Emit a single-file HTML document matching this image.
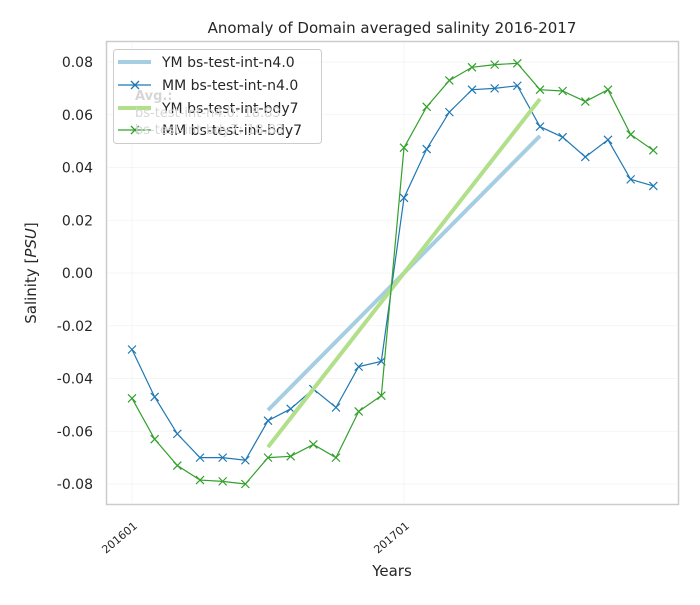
<!DOCTYPE html>
<html><head><meta charset="utf-8"><style>
body{margin:0;background:#fff;}
svg text{font-family:"DejaVu Sans","Liberation Sans",sans-serif;fill:#262626;}
</style></head><body>
<svg id="chart" width="700" height="600">
<rect x="106.5" y="41.5" width="572" height="463" fill="#fff" stroke="#cccccc" stroke-width="1.5"/>
<g id="grid"></g>
<g id="yticks"></g>
<g id="xticks"></g>
<text x="392" y="33" text-anchor="middle" font-size="15">Anomaly of Domain averaged salinity 2016-2017</text>
<text x="392" y="576" text-anchor="middle" font-size="15">Years</text>
<text transform="translate(36,273) rotate(-90)" text-anchor="middle" font-size="15">Salinity [<tspan font-style="italic">PSU</tspan>]</text>
<g id="series"></g>
<g>
<rect x="113.5" y="49.5" width="208" height="94" rx="3" fill="#fff" fill-opacity="0.8" stroke="#cccccc"/>
<line x1="118" y1="62" x2="151" y2="62" stroke="#a6cee3" stroke-width="4"/>
<text x="162" y="67" font-size="14">YM bs-test-int-n4.0</text>
<line x1="118" y1="85" x2="151" y2="85" stroke="#1f78b4" stroke-width="1.3"/>
<path d="M131 81l8 8M139 81l-8 8" stroke="#1f78b4" stroke-width="1.3"/>
<text x="162" y="90" font-size="14">MM bs-test-int-n4.0</text>
<line x1="118" y1="108" x2="151" y2="108" stroke="#b2df8a" stroke-width="4"/>
<text x="162" y="113" font-size="14">YM bs-test-int-bdy7</text>
<line x1="118" y1="130" x2="151" y2="130" stroke="#33a02c" stroke-width="1.3"/>
<path d="M131 126l8 8M139 126l-8 8" stroke="#33a02c" stroke-width="1.3"/>
<text x="162" y="135" font-size="14">MM bs-test-int-bdy7</text>
</g>
<g>
<text x="135" y="100" font-size="13" font-weight="bold" style="fill:#d6d6d6">Avg.:</text>
<text x="135" y="117" font-size="13" style="fill:#d6d6d6">bs-test-int-n4.0: 18.83</text>
<text x="135" y="134" font-size="13" style="fill:#d6d6d6">bs-test-int-bdy7: 18.83</text>
</g>
</svg>
<script>
const months=["201601","201602","201603","201604","201605","201606","201607","201608","201609","201610","201611","201612","201701","201702","201703","201704","201705","201706","201707","201708","201709","201710","201711","201712"];
const mmN4=[-0.029,-0.047,-0.061,-0.070,-0.070,-0.071,-0.056,-0.0515,-0.044,-0.051,-0.0355,-0.0335,0.0285,0.047,0.061,0.0695,0.070,0.071,0.0555,0.0515,0.044,0.0505,0.0355,0.033];
const mmBdy7=[-0.0475,-0.063,-0.073,-0.0785,-0.079,-0.080,-0.070,-0.0695,-0.065,-0.070,-0.0525,-0.0465,0.0475,0.063,0.073,0.078,0.079,0.0795,0.0695,0.069,0.065,0.0695,0.0525,0.0465];
const ymIdx=[6,18];
const ymN4=[-0.052,0.052];
const ymBdy7=[-0.066,0.066];
const yTicks=[-0.08,-0.06,-0.04,-0.02,0,0.02,0.04,0.06,0.08];
const xTickIdx=[0,12];
const xTickLabels=["201601","201701"];
const NS="http://www.w3.org/2000/svg";
const X=i=>132+i*(404-132)/12;
const Y=v=>273-v*2637.5;
function mk(tag,attrs,parent){const e=document.createElementNS(NS,tag);for(const k in attrs)e.setAttribute(k,attrs[k]);document.getElementById(parent).appendChild(e);return e;}
yTicks.forEach(v=>{
 const g=mk('line',{x1:107,x2:678,y1:Y(v),y2:Y(v),stroke:'#f2f2f2','stroke-width':0.8},'grid');
 
 
 const t=mk('text',{x:93,y:Y(v)+5,'text-anchor':'end','font-size':14},'yticks');
 t.textContent=v.toFixed(2);
 
 
});
xTickIdx.forEach((idx,k)=>{
 const g=mk('line',{x1:X(idx),x2:X(idx),y1:42,y2:504,stroke:'#f2f2f2','stroke-width':0.8},'grid');
 
 
 const t=mk('text',{transform:`translate(${X(idx)+6},${527}) rotate(-40)`,'text-anchor':'end','font-size':11},'xticks');
 t.textContent=xTickLabels[k];
 
 
});
function ym(vals,color,name){
 const l=mk('line',{x1:X(ymIdx[0]),y1:Y(vals[0]),x2:X(ymIdx[1]),y2:Y(vals[1]),stroke:color,'stroke-width':4},'series');
 
 
}
function mm(vals,color,name){
 const p=mk('polyline',{points:vals.map((v,i)=>X(i)+','+Y(v)).join(' '),fill:'none',stroke:color,'stroke-width':1.2},'series');
 
 
 vals.forEach((v,i)=>{
  const x=X(i),y=Y(v);
  const m=mk('path',{d:`M${x-4} ${y-4}L${x+4} ${y+4}M${x+4} ${y-4}L${x-4} ${y+4}`,stroke:color,'stroke-width':1.2},'series');
  
  
 });
}
ym(ymN4,'#a6cee3','ym-n4-line');
mm(mmN4,'#1f78b4','mm-n4-line');
ym(ymBdy7,'#b2df8a','ym-bdy7-line');
mm(mmBdy7,'#33a02c','mm-bdy7-line');
</script>
</body></html>
